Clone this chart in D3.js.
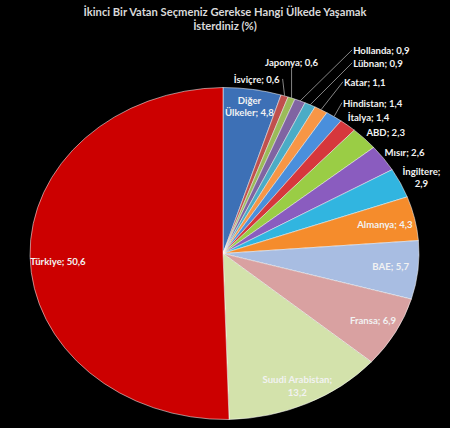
<!DOCTYPE html>
<html>
<head>
<meta charset="utf-8">
<script src="https://cdn.jsdelivr.net/npm/d3@7"></script>
<style>
  body { margin: 0; background: #000; }
  svg { display: block; }
  .title { font-family: Lato, "Open Sans", sans-serif; font-weight: bold; font-size: 11.2px; fill: #d9d9d9; }
  .lbl { font-family: Lato, "Open Sans", sans-serif; font-weight: bold; font-size: 9.6px; fill: #f2f2f2; }
  .leader { stroke: #a6a6a6; stroke-width: 0.8; fill: none; }
</style>
</head>
<body>
<div id="chart"></div>
<script>
// data (clockwise from 12 o'clock)
var countries = ["Diğer Ülkeler", "İsviçre", "Japonya", "Hollanda", "Lübnan", "Katar", "Hindistan", "İtalya",
                 "ABD", "Mısır", "İngiltere", "Almanya", "BAE", "Fransa", "Suudi Arabistan", "Türkiye"];
var shares = [4.8, 0.6, 0.6, 0.9, 0.9, 1.1, 1.4, 1.4, 2.3, 2.6, 2.9, 4.3, 5.7, 6.9, 13.2, 50.6];
var sliceColors = ["#3d70b6", "#c0504d", "#9bbb59", "#8064a2", "#4bacc6", "#f79646", "#4a8fdc", "#d6373c",
                   "#9acd45", "#8a5cbf", "#31b5e0", "#f58c2c", "#a8bde2", "#d9a1a1", "#d3e2ab", "#cc0000"];
var titleLines = ["İkinci Bir Vatan Seçmeniz Gerekse Hangi Ülkede Yaşamak", "İsterdiniz (%)"];

var w = 450, h = 428,
    cx = 223, cy = 253.5,
    rx = 196, ry = 166;

// label placement: "in" = inside at fraction f of radius, "out" = offset from the rim point
var labelLayout = {
  "Diğer Ülkeler":   {mode: "in", f: 0.9, lines: ["Diğer", "Ülkeler; 4,8"]},
  "İsviçre":         {mode: "out", dx: -2, dy: -17, anchor: "end", line: true},
  "Japonya":         {mode: "out", dx: 0, dy: -30, anchor: "middle", line: true, above: true},
  "Hollanda":        {mode: "out", dx: 52, dy: -51, anchor: "start", line: true},
  "Lübnan":          {mode: "out", dx: 42, dy: -42, anchor: "start", line: true},
  "Katar":           {mode: "out", dx: 22, dy: -28, anchor: "start", line: true},
  "Hindistan":       {mode: "out", dx: 8, dy: -14, anchor: "start", line: true},
  "İtalya":          {mode: "out", dx: -1, dy: -8, anchor: "start"},
  "ABD":             {mode: "out", dx: 1, dy: -7, anchor: "start"},
  "Mısır":           {mode: "out", dx: 0, dy: -6, anchor: "start"},
  "İngiltere":       {mode: "out", dx: 21, dy: -6, anchor: "middle", lines: ["İngiltere;", "2,9"]},
  "Almanya":         {mode: "in", f: 0.845},
  "BAE":             {mode: "in", f: 0.86, dy: -2},
  "Fransa":          {mode: "in", f: 0.87, dy: -2},
  "Suudi Arabistan": {mode: "in", f: 0.88, lines: ["Suudi Arabistan;", "13,2"]},
  "Türkiye":         {mode: "in", f: 0.842, dy: 5}
};

var fmt = function(v){ return String(v).replace(".", ","); };

var rows = countries.map(function(c, i){ return {name: c, value: shares[i], color: sliceColors[i]}; });

var svg = d3.select("#chart").append("svg").attr("width", w).attr("height", h);
svg.append("rect").attr("width", w).attr("height", h).attr("fill", "#000");

svg.selectAll(".title").data(titleLines).enter().append("text")
  .attr("class", "title")
  .attr("x", 225)
  .attr("y", function(d, i){ return 16 + i * 14; })
  .attr("text-anchor", "middle")
  .text(function(d){ return d; });

var pie = d3.pie().sort(null).value(function(d){ return d.value; });
var arcs = pie(rows);

// unit circle pie, stretched to an ellipse
var arc = d3.arc().innerRadius(0).outerRadius(1);
var g = svg.append("g").attr("transform", "translate(" + cx + "," + cy + ") scale(" + rx + "," + ry + ")");

g.selectAll("path").data(arcs).enter().append("path")
  .attr("d", arc)
  .attr("fill", function(d){ return d.data.color; })
  .attr("stroke", "#ffffff")
  .attr("stroke-opacity", 0.75)
  .attr("stroke-width", 0.7)
  .attr("vector-effect", "non-scaling-stroke");

function rimPoint(d, f){
  var a = (d.startAngle + d.endAngle) / 2;
  return [cx + rx * f * Math.sin(a), cy - ry * f * Math.cos(a)];
}

var labels = svg.append("g");

arcs.forEach(function(d){
  var L = labelLayout[d.data.name];
  var lines = L.lines || [d.data.name + "; " + fmt(d.data.value)];
  var x, y, anchor;
  if (L.mode === "in") {
    var p = rimPoint(d, L.f);
    x = p[0]; y = p[1] + (L.dy || 0); anchor = "middle";
  } else {
    var e = rimPoint(d, 1);
    var ex = e[0] + L.dx, ey = e[1] + L.dy;
    if (L.line) {
      labels.append("polyline").attr("class", "leader")
        .attr("points", [e, [ex, ey]].map(function(p){ return p.join(","); }).join(" "));
    }
    anchor = L.anchor;
    x = ex + (anchor === "start" ? 1 : anchor === "end" ? -3 : 0);
    y = L.above ? ey - 6 : ey;
  }
  var t = labels.append("text").attr("class", "lbl")
    .attr("text-anchor", anchor)
    .attr("dominant-baseline", "central");
  var off = -(lines.length - 1) * 6;
  lines.forEach(function(s, i){
    t.append("tspan").attr("x", x).attr("y", y + off + i * 12.5).text(s);
  });
});
</script>
</body>
</html>
